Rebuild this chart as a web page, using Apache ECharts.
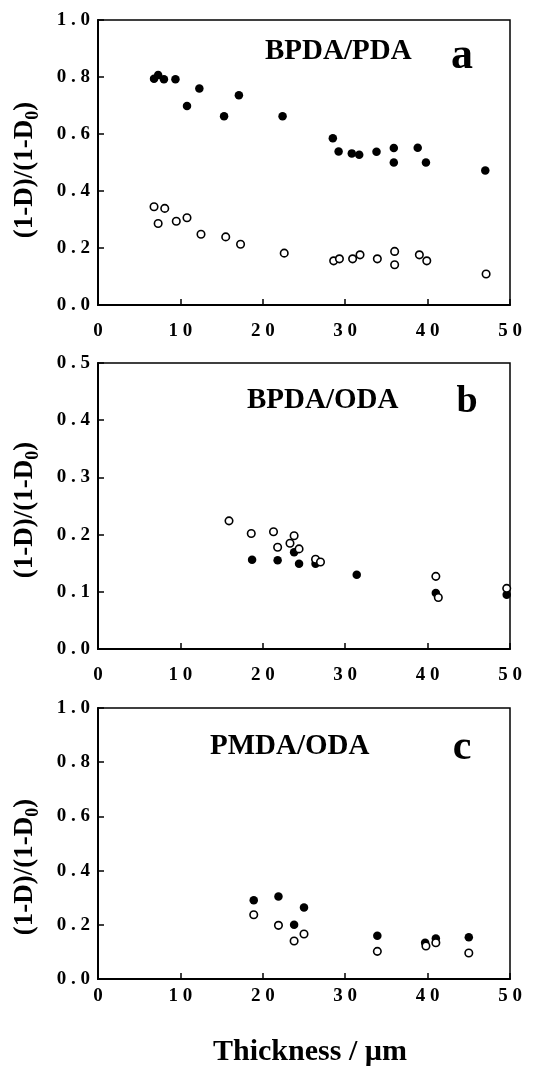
<!DOCTYPE html>
<html>
<head>
<meta charset="utf-8">
<script src="https://cdn.jsdelivr.net/npm/echarts@6/dist/echarts.min.js"></script>
<style>
html, body { margin: 0; padding: 0; background: #fff; }
#main { width: 543px; height: 1068px; }
</style>
</head>
<body>
<div id="main"></div>
<script>
// data: [thickness um, (1-D)/(1-D0)]
var aFilled = [[6.8,0.794],[7.3,0.807],[8.0,0.792],[9.4,0.792],[10.8,0.698],[12.3,0.76],[15.3,0.662],[17.1,0.736],
  [22.4,0.662],[28.5,0.585],[29.2,0.539],[30.8,0.532],[31.7,0.527],[33.8,0.538],[35.9,0.551],[35.9,0.5],
  [38.8,0.552],[39.8,0.5],[47.0,0.472]];
var aOpen = [[6.8,0.345],[7.3,0.286],[8.1,0.339],[9.5,0.294],[10.8,0.306],[12.5,0.248],[15.5,0.239],[17.3,0.213],
  [22.6,0.182],[28.6,0.155],[29.3,0.162],[30.9,0.162],[31.8,0.176],[33.9,0.162],[36.0,0.188],[36.0,0.141],
  [39.0,0.176],[39.9,0.155],[47.1,0.109]];
var bFilled = [[18.7,0.156],[21.8,0.155],[23.8,0.169],[24.4,0.149],[26.4,0.149],[31.4,0.130],[41.0,0.098],[49.6,0.095]];
var bOpen = [[15.9,0.224],[18.6,0.202],[21.3,0.205],[21.8,0.178],[23.8,0.198],[23.3,0.185],[24.4,0.175],
  [26.4,0.157],[27.0,0.152],[41.0,0.127],[41.3,0.090],[49.6,0.106]];
var cFilled = [[18.9,0.291],[21.9,0.304],[23.8,0.200],[25.0,0.264],[33.9,0.160],[39.7,0.134],[41.0,0.149],[45.0,0.154]];
var cOpen = [[18.9,0.237],[21.9,0.198],[23.8,0.140],[25.0,0.166],[33.9,0.102],[39.8,0.122],[41.0,0.134],[45.0,0.096]];

var yMax = [1.0, 0.5, 1.0];
var yStep = [0.2, 0.1, 0.2];
var panelNames = ['BPDA/PDA', 'BPDA/ODA', 'PMDA/ODA'];
var panelLetters = ['a', 'b', 'c'];

var serif = '"Liberation Serif", "Times New Roman", serif';
var chart = echarts.init(document.getElementById('main'));

var tops = [20, 363, 708], heights = [285, 286, 284];
var labelGap = [17, 17, 8];

function spaced(s) { return s.split('').join(' '); }

var grids = [], xAxes = [], yAxes = [], series = [];
for (var i = 0; i < 3; i++) {
  grids.push({ left: 98, right: 33, top: tops[i], height: heights[i], show: true,
    borderColor: '#000', borderWidth: 1.5, backgroundColor: 'transparent' });
  xAxes.push({
    gridIndex: i, type: 'value', min: 0, max: 50, interval: 10,
    axisLine: { show: true, onZero: false, lineStyle: { color: '#000', width: 2 } },
    axisTick: { show: true, inside: true, length: 6, lineStyle: { color: '#000', width: 1.5 } },
    splitLine: { show: false },
    axisLabel: { color: '#000', fontFamily: serif, fontWeight: 'bold', fontSize: 19, margin: labelGap[i],
      formatter: function (v) { return spaced(String(v)); } },
    name: i === 2 ? 'Thickness / µm' : '', nameLocation: 'middle', nameGap: 58,
    nameTextStyle: { color: '#000', fontFamily: serif, fontWeight: 'bold', fontSize: 30, padding: [0, 0, 0, 12] }
  });
  yAxes.push({
    gridIndex: i, type: 'value', min: 0, max: yMax[i], interval: yStep[i],
    axisLine: { show: true, onZero: false, lineStyle: { color: '#000', width: 2 } },
    axisTick: { show: true, inside: true, length: 6, lineStyle: { color: '#000', width: 1.5 } },
    splitLine: { show: false },
    axisLabel: { color: '#000', fontFamily: serif, fontWeight: 'bold', fontSize: 19, margin: 8,
      padding: [8, 0, 0, 0],
      formatter: function (v) { return spaced(v.toFixed(1)); } }
  });
}

var sets = [[aFilled, aOpen], [bFilled, bOpen], [cFilled, cOpen]];
sets.forEach(function (s, i) {
  series.push({ type: 'scatter', xAxisIndex: i, yAxisIndex: i, data: s[0], symbol: 'circle', symbolSize: 8.5,
    itemStyle: { color: '#000', opacity: 1 }, emphasis: { disabled: true } });
  series.push({ type: 'scatter', xAxisIndex: i, yAxisIndex: i, data: s[1], symbol: 'circle', symbolSize: 7.5,
    itemStyle: { color: '#fff', borderColor: '#000', borderWidth: 1.6, opacity: 1 }, emphasis: { disabled: true } });
});

var nameX = [265, 247, 210], nameY = [53, 402, 748];
var letterX = [462, 467, 462], letterSize = [44, 38, 42];
var yNameY = [170, 510, 867];
var graphics = [];
for (var j = 0; j < 3; j++) {
  graphics.push({ type: 'text', left: nameX[j], top: nameY[j] - 16,
    style: { text: panelNames[j], font: 'bold 29px ' + serif, fill: '#000' } });
  graphics.push({ type: 'text', x: letterX[j], y: nameY[j] + (j === 0 ? 4 : 0),
    style: { text: panelLetters[j], font: 'bold ' + letterSize[j] + 'px ' + serif, fill: '#000',
      textAlign: 'center', textVerticalAlign: 'middle' } });
  graphics.push({ type: 'text', x: 25, y: yNameY[j], rotation: Math.PI / 2,
    style: { text: '(1-D)/(1-D{s|0})', font: 'bold 27px ' + serif, fill: '#000',
      textAlign: 'center', textVerticalAlign: 'middle',
      rich: { s: { fontSize: 18, fontWeight: 'bold', fontFamily: serif, verticalAlign: 'bottom', padding: [16, 0, 0, 0] } } } });
}

chart.setOption({
  animation: false,
  backgroundColor: '#fff',
  grid: grids,
  xAxis: xAxes,
  yAxis: yAxes,
  series: series,
  graphic: graphics
});
</script>
</body>
</html>
